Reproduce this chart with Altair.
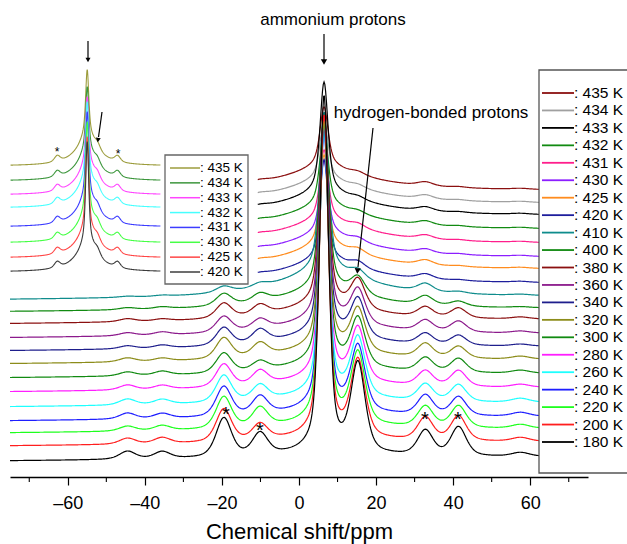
import numpy as np
import pandas as pd
import altair as alt

FONT = "Liberation Sans"

# ---------------- main spectra (top to bottom) ----------------
temps = [435, 434, 433, 432, 431, 430, 425, 420, 410, 400, 380, 360, 340, 320, 300, 280, 260, 240, 220, 200, 180]
colors = ["#8b1010", "#a0a0a0", "#000000", "#118a11", "#ff1e8c", "#8c1eff", "#ff8c1e", "#1e1e9c",
          "#0f8c8c", "#118a11", "#8b1010", "#8c1a8c", "#1e1e8c", "#8c8c1a", "#118a11", "#ff1eff",
          "#1effff", "#1e1eff", "#1eff1e", "#ff1e1e", "#000000"]
start_ppm = [-10.7] * 8 + [-75] * 13
base      = [286, 273, 261, 247, 233, 219, 207, 193, 177, 165, 153, 139, 126, 113, 99, 85, 70, 56, 44, 31, 16]
tilt      = [0, 0, 0, 0, 0, 0, 0, 0, 3, 3, 4, 4, 4, 4, 4, 4, 4, 4, 4, 4, 4]
narrow    = [53, 53, 103, 71, 63, 67, 84, 93, 150, 165, 180, 190, 200, 210, 225, 235, 250, 270, 290, 310, 345]
narrow_w  = [1.2] * 8 + [1.35] * 13
mid       = [10] * 8 + [10] * 13
broad     = [21, 21, 21, 21, 21, 21, 21, 21, 26, 20, 16, 15, 14, 13, 12, 11, 10, 9, 8, 7, 6]
h_bond    = [3, 3, 3, 3, 4, 4, 5, 6, 8, 17, 29, 34, 38, 42, 47, 52, 58, 64, 70, 76, 88]
sb_m195   = [0] * 8 + [6, 12, 15, 16, 18, 21, 20, 23, 27, 30, 32, 33, 39]
sb_m101   = [2] * 8 + [4, 8, 10, 10, 13, 13, 9, 14, 15, 18, 19, 16, 22]
sb_p328   = [4, 4, 4, 4, 4, 4, 5, 5, 8, 9, 10, 11, 11, 14, 14, 15, 17, 20, 21, 23, 25]
sb_p414   = [1] * 8 + [2, 5, 10, 11, 10, 12, 14, 16, 17, 19, 22, 25, 29]
small_m445 = [0] * 8 + [1, 2, 3, 3, 3, 4, 4, 5, 6, 6, 5, 6, 8]
small_m355 = [0] * 8 + [1, 2, 2, 3, 3, 3, 4, 4, 5, 5, 5, 6, 7]
small_p575 = [1] * 8 + [1, 1, 2, 2, 2, 3, 3, 3, 4, 4, 4, 4, 4]

# ---------------- inset spectra ----------------
inset_temps = [435, 434, 433, 432, 431, 430, 425, 420]
inset_colors = ["#9c9c3c", "#3c963c", "#ff46ff", "#46ffff", "#3c3cff", "#46ff46", "#ff4646", "#3c3c3c"]
inset_base = [311, 296, 282, 269, 250, 234, 219, 205]
inset_narrow = [56, 54, 58, 66, 75, 81, 81, 90]
inset_mid = [15] * 8
inset_broad = [25] * 8
inset_hbond = [6] * 8
inset_sb1 = [6] * 8
inset_sb2 = [6] * 8

x_ticks = [-60, -40, -20, 0, 20, 40, 60]
x_minor = [-70, -50, -30, -10, 10, 30, 50, 70]


def pv(x, x0, g, eta):
    r = ((x - x0) / g) ** 2
    return eta / (1 + r) + (1 - eta) * np.exp(-np.log(2) * r)


rows = []
for i, t in enumerate(temps):
    x = np.arange(start_ppm[i], 75.001, 0.2)
    y = (base[i] + tilt[i] * (x + 75) / 150
         + narrow[i] * pv(x, 6.5, narrow_w[i], 0.5)
         + mid[i] * pv(x, 6.5, 3.5, 0.8)
         + broad[i] * pv(x, 6.5, 15, 1.0)
         + h_bond[i] * pv(x, 15.3, 2.2, 0.5)
         + sb_m195[i] * pv(x, -19.5, 2.4, 0.5)
         + sb_m101[i] * pv(x, -10.1, 2.4, 0.5)
         + sb_p328[i] * pv(x, 32.8, 2.4, 0.5)
         + sb_p414[i] * pv(x, 41.4, 2.4, 0.5)
         + small_m445[i] * pv(x, -44.5, 2.5, 0.5)
         + small_m355[i] * pv(x, -35.5, 2.5, 0.5)
         + small_p575[i] * pv(x, 57.5, 2.8, 0.5))
    for a, b in zip(x, y):
        rows.append({"ppm": a, "I": b, "key": f"m{t}"})
main_df = pd.DataFrame(rows)

rows = []
for i, t in enumerate(inset_temps):
    x = np.arange(-60, 70.001, 0.25)
    y = (inset_base[i]
         + inset_narrow[i] * pv(x, 6.5, 1.5, 0.5)
         + inset_mid[i] * pv(x, 6.5, 4.0, 0.8)
         + inset_broad[i] * pv(x, 6.5, 12, 1.0)
         + inset_hbond[i] * pv(x, 15.3, 3.0, 0.5)
         + inset_sb1[i] * pv(x, -19.5, 3.0, 0.5)
         + inset_sb2[i] * pv(x, 32.8, 3.0, 0.5))
    for a, b in zip(x, y):
        rows.append({"ppm": a, "I": b, "key": f"i{t}"})
inset_df = pd.DataFrame(rows)

keys = [f"m{t}" for t in temps] + [f"i{t}" for t in inset_temps]
color_scale = alt.Scale(domain=keys, range=colors + inset_colors)

W, H = 578, 472
xs_main = alt.Scale(domain=[-75, 75], nice=False, zero=False)
ys_main = alt.Scale(domain=[0, H], nice=False, zero=False)
xs_inset = alt.Scale(domain=[-60.5, 74], range=[0, 155], nice=False, zero=False)

main_axis = alt.Axis(values=x_ticks, tickSize=8, tickWidth=1.2, domainWidth=1.3,
                     domainColor="black", tickColor="black", labelColor="black",
                     labelFontSize=18, labelFont=FONT, labelPadding=9,
                     labelExpr="datum.value < 0 ? '\u2013' + abs(datum.value) : datum.label",
                     title="Chemical shift/ppm", titleFont=FONT, titleFontSize=22,
                     titleFontWeight="normal", titleColor="black", titlePadding=9, grid=False)

spectra = alt.Chart(main_df).mark_line(strokeWidth=1.2).encode(
    x=alt.X("ppm:Q", scale=xs_main, axis=main_axis),
    y=alt.Y("I:Q", scale=ys_main, axis=None),
    color=alt.Color("key:N", scale=color_scale, legend=None),
)

minor = alt.Chart(pd.DataFrame({"v": x_minor})).mark_rule(color="black", strokeWidth=1.1).encode(
    x=alt.X("v:Q", scale=xs_main, axis=None),
    y=alt.value(H), y2=alt.value(H + 5),
)

inset = alt.Chart(inset_df).mark_line(strokeWidth=1.1).encode(
    x=alt.X("ppm:Q", scale=xs_inset, axis=None),
    y=alt.Y("I:Q", scale=ys_main, axis=None),
    color=alt.Color("key:N", scale=color_scale, legend=None),
)

# ---------------- legends ----------------
leg_main = pd.DataFrame({"idx": list(range(len(temps))), "key": [f"m{t}" for t in temps],
                         "label": [f": {t} K" for t in temps]})
leg_inset = pd.DataFrame({"idx": list(range(len(inset_temps))), "key": [f"i{t}" for t in inset_temps],
                          "label": [f": {t} K" for t in inset_temps]})

box_main = alt.Chart(pd.DataFrame({"a": [0]})).mark_rect(fill="white", stroke="#555555", strokeWidth=1.3).encode(
    x=alt.value(529), x2=alt.value(640), y=alt.value(65), y2=alt.value(468))
box_inset = alt.Chart(pd.DataFrame({"a": [0]})).mark_rect(fill="white", stroke="#666666", strokeWidth=1.3).encode(
    x=alt.value(155), x2=alt.value(238), y=alt.value(150), y2=alt.value(279))

ys_leg_main = alt.Scale(domain=[0, 20], range=[88, 437])
ys_leg_inset = alt.Scale(domain=[0, 7], range=[163, 267])

leg_main_lines = alt.Chart(leg_main).mark_rule(strokeWidth=1.8).encode(
    x=alt.value(532), x2=alt.value(564),
    y=alt.Y("idx:Q", scale=ys_leg_main, axis=None),
    color=alt.Color("key:N", scale=color_scale, legend=None))
leg_main_text = alt.Chart(leg_main).mark_text(align="left", baseline="middle", font=FONT, fontSize=15.5,
                                              color="black").encode(
    x=alt.value(564), y=alt.Y("idx:Q", scale=ys_leg_main, axis=None), text="label:N")

leg_inset_lines = alt.Chart(leg_inset).mark_rule(strokeWidth=1.5).encode(
    x=alt.value(160), x2=alt.value(190),
    y=alt.Y("idx:Q", scale=ys_leg_inset, axis=None),
    color=alt.Color("key:N", scale=color_scale, legend=None))
leg_inset_text = alt.Chart(leg_inset).mark_text(align="left", baseline="middle", font=FONT, fontSize=13.5,
                                                color="black").encode(
    x=alt.value(190), y=alt.Y("idx:Q", scale=ys_leg_inset, axis=None), text="label:N")

# ---------------- annotations ----------------
one = pd.DataFrame({"a": [0]})


def txt(s, x, y, size, align="center"):
    return alt.Chart(one).mark_text(text=s, font=FONT, fontSize=size, align=align, baseline="middle",
                                    color="black").encode(x=alt.value(x), y=alt.value(y))


def shaft(x1, y1, x2, y2):
    return alt.Chart(one).mark_rule(color="black", strokeWidth=1.2).encode(
        x=alt.value(x1), y=alt.value(y1), x2=alt.value(x2), y2=alt.value(y2))


def head(x, y, ang, size=40):
    return alt.Chart(one).mark_point(shape="triangle-down", filled=True, size=size, color="black",
                                     opacity=1, angle=ang).encode(x=alt.value(x), y=alt.value(y))


annots = [
    txt("ammonium protons", 323, 15, 17),
    shaft(314, 29, 314, 56), head(314, 57, 0),
    txt("hydrogen-bonded protons", 421, 108, 17),
    shaft(363, 123, 348, 262), head(347.5, 266, 6),
    shaft(78, 36, 78, 53), head(78, 55, 0, 25),
    shaft(92, 107, 88.5, 132), head(88, 135, 8, 25),
    txt("*", 216, 410, 20), txt("*", 250, 426, 20),
    txt("*", 415, 415, 20), txt("*", 448, 415, 20),
    txt("*", 47, 147, 12), txt("*", 108, 149, 12),
]

chart = alt.layer(
    spectra, minor, inset, box_main, box_inset,
    leg_main_lines, leg_main_text, leg_inset_lines, leg_inset_text, *annots
).resolve_scale(x="independent", y="independent").properties(
    width=W, height=H,
    padding={"left": 10, "top": 5, "right": 39, "bottom": 67},
    autosize=alt.AutoSizeParams(type="none"),
).configure_view(stroke=None)

chart.save("out.html", embed_options={"renderer": "svg", "actions": False})
